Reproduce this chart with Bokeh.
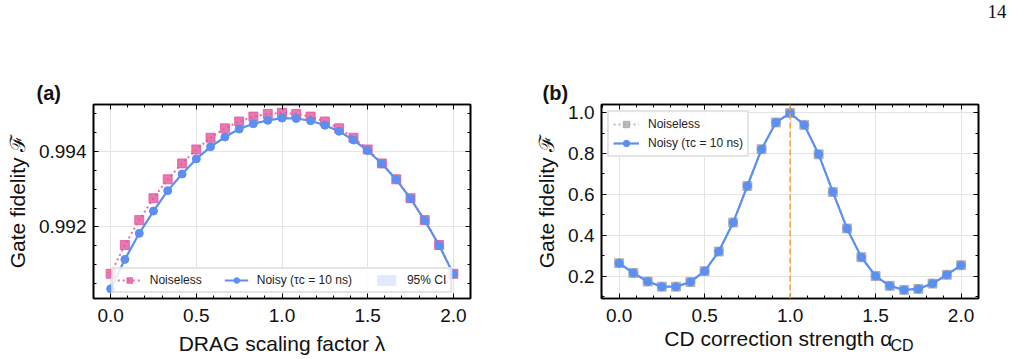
from bokeh.plotting import figure
from bokeh.layouts import row
from bokeh.models import (SingleIntervalTicker, LinearAxis, Legend, LegendItem,
                          Title, Range1d, Span, ColumnDataSource, NumeralTickFormatter)
from bokeh.embed import file_html
from bokeh.resources import INLINE

# ---- data -------------------------------------------------------------
drag_lambda = [0.0, 0.083, 0.167, 0.25, 0.333, 0.417, 0.5, 0.583, 0.667, 0.75,
               0.833, 0.917, 1.0, 1.083, 1.167, 1.25, 1.333, 1.417, 1.5, 1.583,
               1.667, 1.75, 1.833, 1.917, 2.0]
drag_noiseless = [0.99076, 0.99152, 0.99218, 0.99276, 0.99326, 0.99368, 0.99405,
                  0.99436, 0.99461, 0.99479, 0.99492, 0.99499, 0.99502, 0.99499,
                  0.99492, 0.99479, 0.99461, 0.99436, 0.99405, 0.99368, 0.99326,
                  0.99276, 0.99218, 0.99152, 0.99076]
drag_noisy = [0.99036, 0.99114, 0.99183, 0.99242, 0.99296, 0.99340, 0.99380,
              0.99412, 0.99438, 0.99459, 0.99473, 0.99482, 0.99488, 0.99487,
              0.99481, 0.99469, 0.99453, 0.99430, 0.99402, 0.99367, 0.99325,
              0.99275, 0.99217, 0.99151, 0.99075]
drag_ci_half = 0.00002

cd_alpha = drag_lambda
cd_noiseless = [0.263, 0.215, 0.173, 0.148, 0.148, 0.171, 0.224, 0.320, 0.462,
                0.641, 0.821, 0.952, 0.998, 0.940, 0.796, 0.612, 0.433, 0.292,
                0.200, 0.152, 0.132, 0.137, 0.163, 0.206, 0.253]
cd_noisy = [0.263, 0.215, 0.173, 0.148, 0.148, 0.171, 0.224, 0.320, 0.462,
            0.641, 0.821, 0.952, 0.998, 0.940, 0.796, 0.612, 0.433, 0.292,
            0.200, 0.152, 0.132, 0.137, 0.163, 0.206, 0.253]
cd_optimum = 1.0

# ---- style ------------------------------------------------------------
FONT = "Liberation Sans"
PINK = "#e2569c"
BLUE = "#5b8ff2"
GRAY = "#a8a8a8"
ORANGE = "#f2a93b"
INK = "#111111"


def style_axis(ax, ticker, fmt=None, show_labels=True):
    ax.ticker = ticker
    if fmt:
        ax.formatter = NumeralTickFormatter(format=fmt)
    ax.axis_line_color = "black"
    ax.axis_line_width = 1.6
    ax.major_tick_in = 5
    ax.major_tick_out = 0
    ax.minor_tick_in = 3
    ax.minor_tick_out = 0
    ax.major_tick_line_color = "black"
    ax.minor_tick_line_color = "black"
    ax.major_label_text_font = FONT
    ax.axis_label_text_font = FONT
    ax.axis_label_text_font_style = "normal"
    ax.axis_label_text_color = INK
    ax.axis_label_text_font_size = "21px"
    ax.axis_label_standoff = 7
    if show_labels:
        ax.major_label_text_color = INK
        ax.major_label_text_font_size = "19px"
        ax.major_label_standoff = 7
    else:
        ax.major_label_text_color = None
        ax.major_label_text_font_size = "1px"
        ax.major_label_standoff = 0
        ax.axis_label = None


def make_panel(x_range, y_range, xtick, ytick, xfmt, yfmt, border_left, border_right):
    p = figure(width=507, height=359, x_range=x_range, y_range=y_range,
               output_backend="svg", toolbar_location=None, title=None,
               min_border_left=border_left, min_border_right=border_right,
               min_border_top=103, min_border_bottom=61)
    p.outline_line_color = "black"
    p.outline_line_width = 1.6
    p.background_fill_color = "white"
    p.border_fill_color = "white"
    p.grid.grid_line_color = "#e4e4e4"
    p.grid.grid_line_width = 1
    xax, yax = p.xaxis[0], p.yaxis[0]
    style_axis(xax, xtick, xfmt)
    style_axis(yax, ytick, yfmt)
    xax.major_label_standoff = 10
    top = LinearAxis()
    right = LinearAxis()
    style_axis(top, SingleIntervalTicker(interval=xtick.interval, num_minor_ticks=xtick.num_minor_ticks), xfmt, False)
    style_axis(right, SingleIntervalTicker(interval=ytick.interval, num_minor_ticks=ytick.num_minor_ticks), yfmt, False)
    p.add_layout(top, "above")
    p.add_layout(right, "right")
    p.xgrid.ticker = xtick
    p.ygrid.ticker = ytick
    return p, xax, yax


def tag(text, offset=0, standoff=2, size="20px", font=FONT, style="bold",
        align="left", valign="bottom", line_height=1.2):
    return Title(text=text, align=align, offset=offset, standoff=standoff,
                 vertical_align=valign, text_line_height=line_height,
                 text_font=font, text_font_size=size, text_font_style=style,
                 text_color=INK)


# ---- panel (a): DRAG scaling -------------------------------------------
src_a = ColumnDataSource(dict(
    x=drag_lambda, clean=drag_noiseless, noisy=drag_noisy,
    lo=[v - drag_ci_half for v in drag_noisy],
    hi=[v + drag_ci_half for v in drag_noisy]))

pa, xa, ya = make_panel(Range1d(-0.1, 2.1), Range1d(0.990105, 0.99524),
                        SingleIntervalTicker(interval=0.5, num_minor_ticks=5),
                        SingleIntervalTicker(interval=0.002, num_minor_ticks=4),
                        "0.0", "0.000", 93, 37)
xa.axis_label = "DRAG scaling factor λ"
ya.axis_label = "Gate fidelity ℱ"

band_a = pa.varea(x="x", y1="lo", y2="hi", source=src_a,
                  fill_color=BLUE, fill_alpha=0.18)
ln_clean_a = pa.line("x", "clean", source=src_a, line_color=PINK,
                     line_width=2, line_dash="2 3", line_alpha=0.85)
sq_clean_a = pa.scatter("x", "clean", source=src_a, marker="square", size=9,
                        fill_color=PINK, line_color=PINK, fill_alpha=0.8, line_alpha=0.8)
ln_noisy_a = pa.line("x", "noisy", source=src_a, line_color=BLUE, line_width=2.2)
ci_noisy_a = pa.scatter("x", "noisy", source=src_a, marker="circle", size=8,
                        fill_color=BLUE, line_color=BLUE)

leg_a = Legend(items=[
    LegendItem(label="Noiseless", renderers=[ln_clean_a, sq_clean_a]),
    LegendItem(label="Noisy (τc = 10 ns)", renderers=[ln_noisy_a, ci_noisy_a]),
    LegendItem(label="95% CI", renderers=[band_a]),
], orientation="horizontal", location="bottom_center")
pa.add_layout(leg_a, "center")

# ---- panel (b): CD correction ------------------------------------------
src_b = ColumnDataSource(dict(x=cd_alpha, clean=cd_noiseless, noisy=cd_noisy))

pb, xb, yb = make_panel(Range1d(-0.103, 2.102), Range1d(0.09, 1.04),
                        SingleIntervalTicker(interval=0.5, num_minor_ticks=5),
                        SingleIntervalTicker(interval=0.2, num_minor_ticks=2),
                        "0.0", "0.0", 94, 36)
xb.axis_label = None
yb.axis_label = "Gate fidelity ℱ"

pb.add_layout(Span(location=cd_optimum, dimension="height", line_color=ORANGE,
                   line_width=1.6, line_dash="6 3"))
ln_clean_b = pb.line("x", "clean", source=src_b, line_color=GRAY,
                     line_width=2, line_dash="2 3", line_alpha=0.8)
sq_clean_b = pb.scatter("x", "clean", source=src_b, marker="square", size=9,
                        fill_color=GRAY, line_color=GRAY, fill_alpha=0.8, line_alpha=0.8)
ln_noisy_b = pb.line("x", "noisy", source=src_b, line_color=BLUE, line_width=2.2)
ci_noisy_b = pb.scatter("x", "noisy", source=src_b, marker="circle", size=8,
                        fill_color=BLUE, line_color=BLUE)

leg_b = Legend(items=[
    LegendItem(label="Noiseless", renderers=[ln_clean_b, sq_clean_b]),
    LegendItem(label="Noisy (τc = 10 ns)", renderers=[ln_noisy_b, ci_noisy_b]),
], location="top_left")
pb.add_layout(leg_b, "center")

for leg in (leg_a, leg_b):
    leg.label_text_font = FONT
    leg.label_text_font_size = "12px"
    leg.label_text_color = "#222222"
    leg.border_line_color = "#cccccc"
    leg.border_line_width = 2
    leg.background_fill_color = "white"
    leg.background_fill_alpha = 0.85
    leg.glyph_width = 24
    leg.label_standoff = 9
    leg.margin = 6

leg_a.spacing = 22
leg_a.padding = 4
leg_a.glyph_height = 14
leg_a.label_height = 14
leg_a.margin = 5
leg_b.spacing = 3
leg_b.padding = 4
leg_b.glyph_height = 16
leg_b.label_height = 16
leg_b.glyph_width = 26

# panel tags and page number
pa.add_layout(tag("(a)", -57), "above")
pb.add_layout(tag("(b)", -59), "above")
pb.add_layout(tag("14\n\u00a0\n\u00a0\n\u00a0", -28, standoff=0, size="19px",
                  font="Liberation Serif", style="normal", align="right",
                  valign="top", line_height=0.88), "above")

# x-axis title of panel (b) with its subscripted symbol
pb.add_layout(tag("CD correction strength α\u2007\u2007", standoff=0, size="21px",
                  style="normal", align="center"), "below")
pb.add_layout(tag("CD", 289, standoff=-26, size="16px", style="normal",
                  align="left", valign="top"), "below")

layout = row(pa, pb)
open("out.html", "w").write(file_html(layout, INLINE))
